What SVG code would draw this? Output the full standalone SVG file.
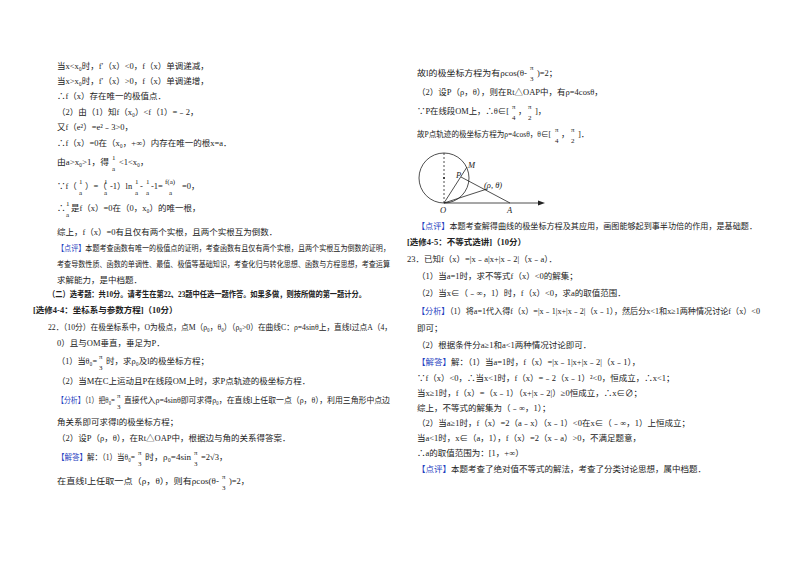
<svg xmlns="http://www.w3.org/2000/svg" width="800" height="565" viewBox="0 0 800 565">
<style>
text{font-family:"Liberation Serif","Noto Sans CJK SC",serif;font-size:8.5px;fill:#222}
.b{font-weight:bold}
.blue{fill:#1f3fbf}
.f{font-size:7px}
.ln{stroke:#222;stroke-width:0.8;fill:none}
</style>
<rect width="800" height="565" fill="#fff"/>
<g id="left">
<text x="57" y="69">当x&lt;x₀时，f′（x）&lt;0，f（x）单调递减，</text>
<text x="57" y="84">当x&gt;x₀时，f′（x）&gt;0，f（x）单调递增，</text>
<text x="57" y="99">∴f（x）存在唯一的极值点．</text>
<text x="57" y="115">（2）由（1）知f（x₀）&lt;f（1）=﹣2，</text>
<text x="57" y="130">又f（e²）=e²﹣3&gt;0，</text>
<text x="57" y="146">∴f（x）=0在（x₀，+∞）内存在唯一的根x=a．</text>
<text x="57" y="165" textLength="52" lengthAdjust="spacingAndGlyphs">由a&gt;x₀&gt;1，得</text><text x="112" y="160" class="f">1</text><text x="112" y="171" class="f">a</text><text x="119" y="165">&lt;1&lt;x₀，</text>
<text x="57" y="189">∵f（</text><text x="79" y="184" class="f">1</text><text x="79" y="195" class="f">a</text><text x="85" y="189">）=（</text><text x="104" y="184" class="f">1</text><text x="104" y="195" class="f">a</text><text x="110" y="189">-1）ln</text><text x="135" y="184" class="f">1</text><text x="135" y="195" class="f">a</text><text x="140" y="189">-</text><text x="146" y="184" class="f">1</text><text x="146" y="195" class="f">a</text><text x="151" y="189">-1=</text><text x="165" y="184" class="f">f(a)</text><text x="169" y="195" class="f">a</text><text x="182" y="189">=0，</text>
<text x="57" y="211">∴</text><text x="66" y="206" class="f">1</text><text x="66" y="217" class="f">a</text><text x="71" y="211">是f（x）=0在（0，x₀）的唯一根，</text>
<text x="57" y="235">综上，f（x）=0有且仅有两个实根，且两个实根互为倒数．</text>
<text x="57" y="251" textLength="333" lengthAdjust="spacingAndGlyphs"><tspan class="blue">【点评】</tspan>本题考查函数有唯一的极值点的证明，考查函数有且仅有两个实根，且两个实根互为倒数的证明，</text>
<text x="57" y="267" textLength="333" lengthAdjust="spacingAndGlyphs">考查导数性质、函数的单调性、最值、极值等基础知识，考查化归与转化思想、函数与方程思想，考查运算</text>
<text x="57" y="283">求解能力，是中档题．</text>
<text x="48" y="297" class="b" textLength="318" lengthAdjust="spacingAndGlyphs">（二）选考题：共10分。请考生在第22、23题中任选一题作答。如果多做，则按所做的第一题计分。</text>
<text x="33" y="313" class="b">[选修4-4：坐标系与参数方程]（10分）</text>
<text x="48" y="330" textLength="344" lengthAdjust="spacingAndGlyphs">22．（10分）在极坐标系中，O为极点，点M（ρ₀，θ₀）（ρ₀&gt;0）在曲线C：ρ=4sinθ上，直线l过点A（4，</text>
<text x="57" y="346">0）且与OM垂直，垂足为P．</text>
<text x="57" y="364" textLength="40" lengthAdjust="spacingAndGlyphs">（1）当θ₀=</text><text x="99" y="359" class="f">π</text><text x="99" y="370" class="f">3</text><text x="106" y="364">时，求ρ₀及l的极坐标方程；</text>
<text x="57" y="384">（2）当M在C上运动且P在线段OM上时，求P点轨迹的极坐标方程．</text>
<text x="57" y="403" textLength="58" lengthAdjust="spacingAndGlyphs"><tspan class="blue">【分析】</tspan>（1）把θ₀=</text><text x="117" y="398" class="f">π</text><text x="117" y="409" class="f">3</text><text x="124" y="403" textLength="266" lengthAdjust="spacingAndGlyphs">直接代入ρ=4sinθ即可求得ρ₀，在直线l上任取一点（ρ，θ），利用三角形中点边</text>
<text x="57" y="425">角关系即可求得l的极坐标方程；</text>
<text x="57" y="441">（2）设P（ρ，θ），在Rt△OAP中，根据边与角的关系得答案．</text>
<text x="57" y="460" textLength="78" lengthAdjust="spacingAndGlyphs"><tspan class="blue">【解答】</tspan>解：（1）当θ₀=</text><text x="138" y="455" class="f">π</text><text x="138" y="466" class="f">3</text><text x="145" y="460" textLength="46" lengthAdjust="spacingAndGlyphs">时，ρ₀=4sin</text><text x="194" y="455" class="f">π</text><text x="194" y="466" class="f">3</text><text x="201" y="460">=2√3，</text>
<text x="57" y="484" textLength="162" lengthAdjust="spacingAndGlyphs">在直线l上任取一点（ρ，θ），则有ρcos(θ-</text><text x="222" y="479" class="f">π</text><text x="222" y="490" class="f">3</text><text x="229" y="484">)=2，</text>
</g>
<g id="right">
<text x="417" y="76" textLength="110" lengthAdjust="spacingAndGlyphs">故l的极坐标方程为有ρcos(θ-</text><text x="530" y="70" class="f">π</text><text x="530" y="81" class="f">3</text><text x="537" y="76">)=2；</text>
<text x="417" y="95">（2）设P（ρ，θ），则在Rt△OAP中，有ρ=4cosθ，</text>
<text x="417" y="114" textLength="92" lengthAdjust="spacingAndGlyphs">∵P在线段OM上，∴θ∈[</text><text x="512" y="109" class="f">π</text><text x="512" y="120" class="f">4</text><text x="518" y="114">，</text><text x="528" y="109" class="f">π</text><text x="528" y="120" class="f">2</text><text x="535" y="114">]，</text>
<text x="417" y="137" textLength="134" lengthAdjust="spacingAndGlyphs">故P点轨迹的极坐标方程为ρ=4cosθ，θ∈[</text><text x="555" y="132" class="f">π</text><text x="555" y="143" class="f">4</text><text x="561" y="137">，</text><text x="571" y="132" class="f">π</text><text x="571" y="143" class="f">2</text><text x="578" y="137">]．</text>
</g>
<g id="figure">
<circle cx="444" cy="178" r="25" class="ln"/>
<line x1="444" y1="153" x2="444" y2="203" class="ln" stroke-dasharray="2,2"/>
<circle cx="444" cy="178" r="1" fill="#222"/>
<line x1="444" y1="203" x2="540" y2="203" class="ln"/>
<path d="M545,203 L538,200.5 L538,205.5 Z" fill="#222"/>
<line x1="444" y1="203" x2="467" y2="167" class="ln"/>
<line x1="461" y1="177" x2="510" y2="203" class="ln"/>
<line x1="444" y1="203" x2="487" y2="189" class="ln"/>
<text x="468" y="168" font-style="italic">M</text>
<text x="456" y="178" font-style="italic">P</text>
<text x="484" y="188" font-style="italic">(ρ, θ)</text>
<text x="440" y="213" font-style="italic">O</text>
<text x="507" y="213" font-style="italic">A</text>
</g>
<g id="right2">
<text x="417" y="229" textLength="340" lengthAdjust="spacingAndGlyphs"><tspan class="blue">【点评】</tspan>本题考查解得曲线的极坐标方程及其应用，画图能够起到事半功倍的作用，是基础题．</text>
<text x="407" y="245" class="b">[选修4-5：不等式选讲]（10分）</text>
<text x="407" y="262">23．已知f（x）=|x﹣a|x+|x﹣2|（x﹣a）．</text>
<text x="417" y="279">（1）当a=1时，求不等式f（x）&lt;0的解集；</text>
<text x="417" y="296">（2）当x∈（﹣∞，1）时，f（x）&lt;0，求a的取值范围．</text>
<text x="417" y="314" textLength="343" lengthAdjust="spacingAndGlyphs"><tspan class="blue">【分析】</tspan>（1）将a=1代入得f（x）=|x﹣1|x+|x﹣2|（x﹣1），然后分x&lt;1和x≥1两种情况讨论f（x）&lt;0</text>
<text x="417" y="331">即可；</text>
<text x="417" y="348">（2）根据条件分a≥1和a&lt;1两种情况讨论即可．</text>
<text x="417" y="365"><tspan class="blue">【解答】</tspan>解：（1）当a=1时，f（x）=|x﹣1|x+|x﹣2|（x﹣1），</text>
<text x="417" y="381">∵f（x）&lt;0，∴当x&lt;1时，f（x）=﹣2（x﹣1）²&lt;0，恒成立，∴x&lt;1；</text>
<text x="417" y="396">当x≥1时，f（x）=（x﹣1）（x+|x﹣2|）≥0恒成立，∴x∈∅；</text>
<text x="417" y="411">综上，不等式的解集为（﹣∞，1）；</text>
<text x="417" y="426">（2）当a≥1时，f（x）=2（a﹣x）（x﹣1）&lt;0在x∈（﹣∞，1）上恒成立；</text>
<text x="417" y="441">当a&lt;1时，x∈（a，1），f（x）=2（x﹣a）&gt;0，不满足题意，</text>
<text x="417" y="456">∴a的取值范围为：[1，+∞）</text>
<text x="417" y="472"><tspan class="blue">【点评】</tspan>本题考查了绝对值不等式的解法，考查了分类讨论思想，属中档题．</text>
</g>
</svg>
